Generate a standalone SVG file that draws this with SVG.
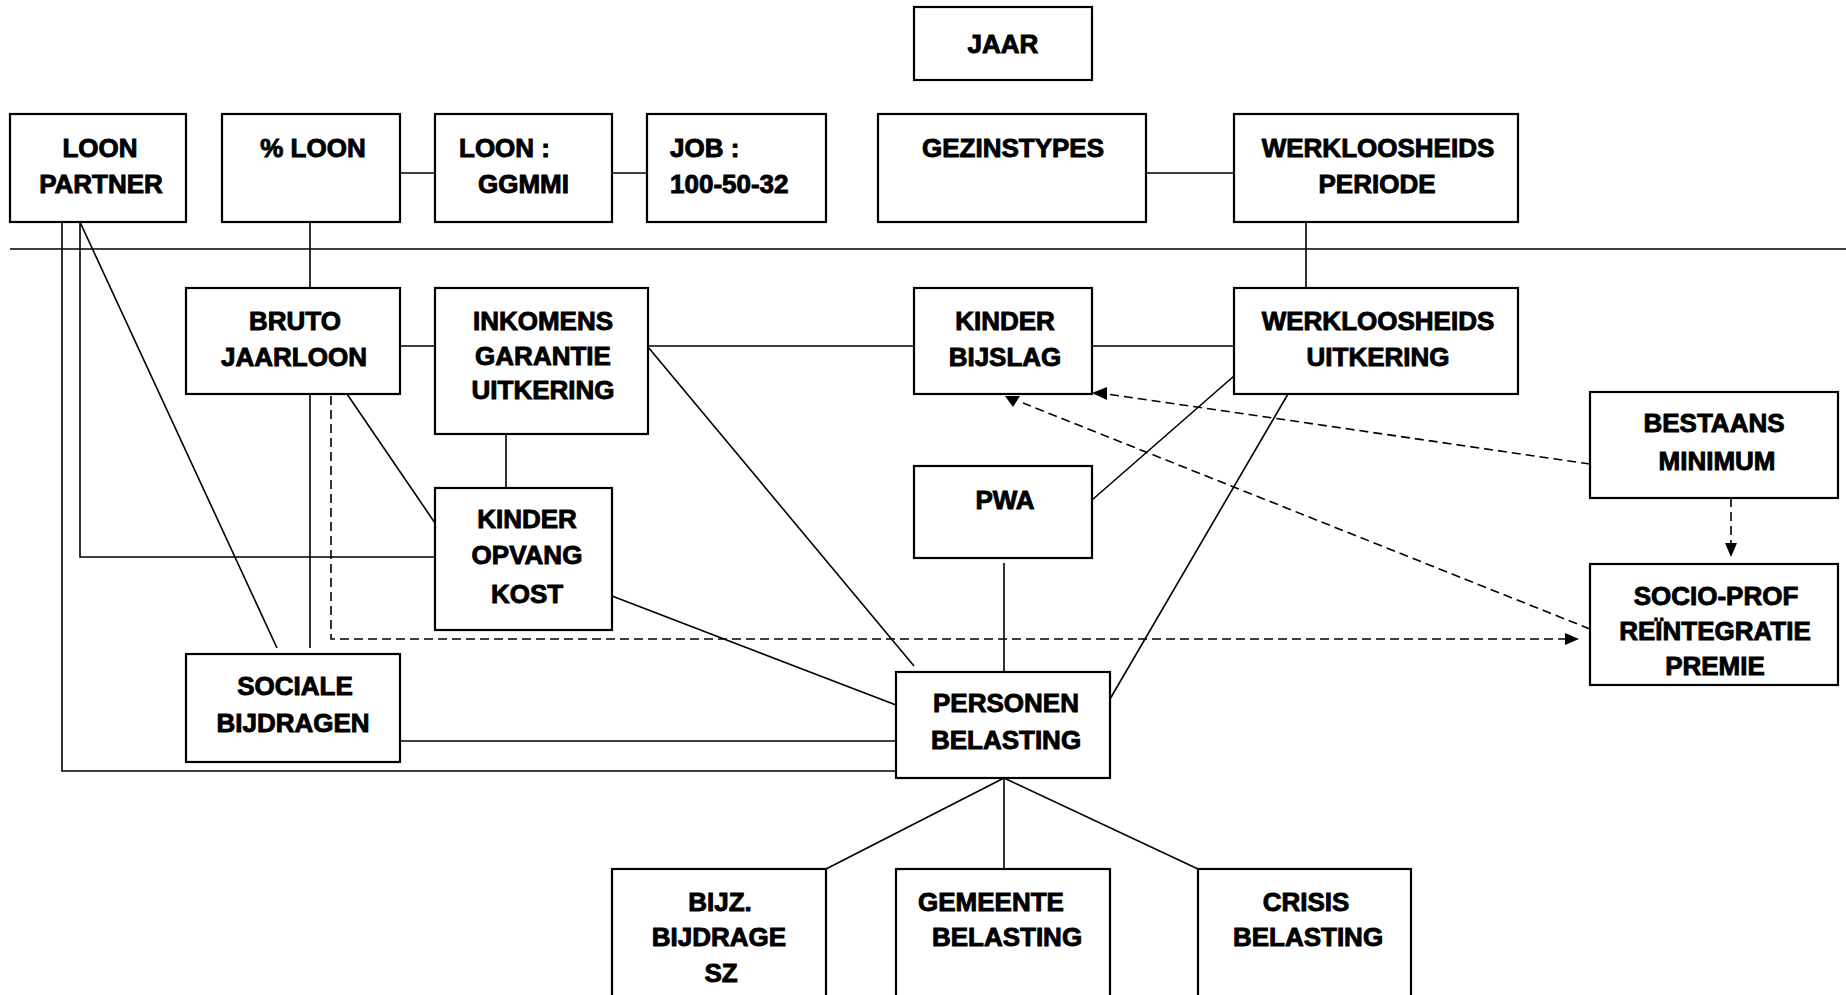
<svg xmlns="http://www.w3.org/2000/svg" width="1846" height="995" viewBox="0 0 1846 995">
<style>
.box{fill:#fff;stroke:#000;stroke-width:2.2}
.t{font-family:"Liberation Sans",Arial,sans-serif;font-weight:bold;font-size:26px;fill:#000;stroke:#000;stroke-width:0.9;text-anchor:middle}
.ts{text-anchor:start}
.c{fill:none;stroke:#000;stroke-width:1.6}
.d{fill:none;stroke:#000;stroke-width:1.6;stroke-dasharray:9 5}
.ah{fill:#000;stroke:none}
</style>
<rect width="1846" height="995" fill="#fff"/>
<g id="connectors">
<line class="c" x1="400" y1="173" x2="435" y2="173"/>
<line class="c" x1="612" y1="173" x2="647" y2="173"/>
<line class="c" x1="1146" y1="173" x2="1234" y2="173"/>
<line class="c" x1="10" y1="249" x2="1846" y2="249" stroke-width="2"/>
<line class="c" x1="310" y1="222" x2="310" y2="288"/>
<line class="c" x1="1306" y1="222" x2="1306" y2="288"/>
<line class="c" x1="400" y1="346" x2="435" y2="346"/>
<line class="c" x1="648" y1="346" x2="914" y2="346"/>
<line class="c" x1="1092" y1="346" x2="1234" y2="346"/>
<line class="c" x1="506" y1="434" x2="506" y2="488"/>
<line class="c" x1="347" y1="394" x2="435" y2="523"/>
<line class="c" x1="310" y1="394" x2="310" y2="648"/>
<polyline class="d" points="331,396 331,639 1566,639"/>
<polygon class="ah" points="1579,639 1565,633 1565,645"/>
<polyline class="c" points="80,222 80,557 435,557"/>
<line class="c" x1="80" y1="222" x2="277" y2="648"/>
<polyline class="c" points="62,222 62,771 896,771"/>
<line class="c" x1="400" y1="741" x2="896" y2="741"/>
<line class="c" x1="612" y1="596" x2="896" y2="705"/>
<line class="c" x1="648" y1="347" x2="914" y2="666"/>
<line class="c" x1="1004" y1="563" x2="1004" y2="672"/>
<line class="c" x1="1092" y1="500" x2="1234" y2="376"/>
<line class="c" x1="1288" y1="394" x2="1110" y2="699"/>
<line class="d" x1="1590" y1="464" x2="1107" y2="394"/>
<polygon class="ah" points="1092,393 1107,387 1107,400"/>
<line class="d" x1="1590" y1="629" x2="1023" y2="403"/>
<polygon class="ah" points="1005,396 1020,396 1013,407"/>
<line class="d" x1="1731" y1="498" x2="1731" y2="544"/>
<polygon class="ah" points="1731,557 1725,543 1737,543"/>
<line class="c" x1="1004" y1="778" x2="826" y2="869"/>
<line class="c" x1="1004" y1="778" x2="1004" y2="869"/>
<line class="c" x1="1004" y1="778" x2="1198" y2="869"/>
</g>
<g id="jaar"><rect class="box" x="914" y="7" width="178" height="73"/><text class="t" x="1003" y="53">JAAR</text></g>
<g id="loon-partner"><rect class="box" x="10" y="114" width="176" height="108"/><text class="t" x="100" y="157">LOON</text><text class="t" x="101" y="193">PARTNER</text></g>
<g id="pct-loon"><rect class="box" x="222" y="114" width="178" height="108"/><text class="t" x="313" y="157">% LOON</text></g>
<g id="loon-ggmmi"><rect class="box" x="435" y="114" width="177" height="108"/><text class="t ts" x="459" y="157">LOON :</text><text class="t ts" x="478" y="193">GGMMI</text></g>
<g id="job"><rect class="box" x="647" y="114" width="179" height="108"/><text class="t ts" x="670" y="157">JOB :</text><text class="t ts" x="670" y="193">100-50-32</text></g>
<g id="gezinstypes"><rect class="box" x="878" y="114" width="268" height="108"/><text class="t" x="1013" y="157">GEZINSTYPES</text></g>
<g id="werkloosheids-periode"><rect class="box" x="1234" y="114" width="284" height="108"/><text class="t" x="1378" y="157">WERKLOOSHEIDS</text><text class="t" x="1377" y="193">PERIODE</text></g>
<g id="bruto-jaarloon"><rect class="box" x="186" y="288" width="214" height="106"/><text class="t" x="295" y="330">BRUTO</text><text class="t" x="294" y="366">JAARLOON</text></g>
<g id="inkomens"><rect class="box" x="435" y="288" width="213" height="146"/><text class="t" x="543" y="330">INKOMENS</text><text class="t" x="543" y="365">GARANTIE</text><text class="t" x="543" y="399">UITKERING</text></g>
<g id="kinder-bijslag"><rect class="box" x="914" y="288" width="178" height="106"/><text class="t" x="1005" y="330">KINDER</text><text class="t" x="1005" y="366">BIJSLAG</text></g>
<g id="werkloosheids-uitkering"><rect class="box" x="1234" y="288" width="284" height="106"/><text class="t" x="1378" y="330">WERKLOOSHEIDS</text><text class="t" x="1378" y="366">UITKERING</text></g>
<g id="bestaans-minimum"><rect class="box" x="1590" y="392" width="248" height="106"/><text class="t" x="1714" y="432">BESTAANS</text><text class="t" x="1717" y="470">MINIMUM</text></g>
<g id="kinder-opvang"><rect class="box" x="435" y="488" width="177" height="142"/><text class="t" x="527" y="528">KINDER</text><text class="t" x="527" y="564">OPVANG</text><text class="t" x="527" y="603">KOST</text></g>
<g id="pwa"><rect class="box" x="914" y="466" width="178" height="92"/><text class="t" x="1005" y="509">PWA</text></g>
<g id="socio-prof"><rect class="box" x="1590" y="564" width="248" height="121"/><text class="t" x="1716" y="605">SOCIO-PROF</text><text class="t" x="1715" y="640">REÏNTEGRATIE</text><text class="t" x="1715" y="675">PREMIE</text></g>
<g id="sociale-bijdragen"><rect class="box" x="186" y="654" width="214" height="108"/><text class="t" x="295" y="695">SOCIALE</text><text class="t" x="293" y="732">BIJDRAGEN</text></g>
<g id="personen-belasting"><rect class="box" x="896" y="672" width="214" height="106"/><text class="t" x="1006" y="712">PERSONEN</text><text class="t" x="1006" y="749">BELASTING</text></g>
<g id="bijz-bijdrage"><rect class="box" x="612" y="869" width="214" height="140"/><text class="t" x="720" y="911">BIJZ.</text><text class="t" x="719" y="946">BIJDRAGE</text><text class="t" x="721" y="982">SZ</text></g>
<g id="gemeente-belasting"><rect class="box" x="896" y="869" width="214" height="140"/><text class="t" x="991" y="911">GEMEENTE</text><text class="t" x="1007" y="946">BELASTING</text></g>
<g id="crisis-belasting"><rect class="box" x="1198" y="869" width="213" height="140"/><text class="t" x="1306" y="911">CRISIS</text><text class="t" x="1308" y="946">BELASTING</text></g>
</svg>
